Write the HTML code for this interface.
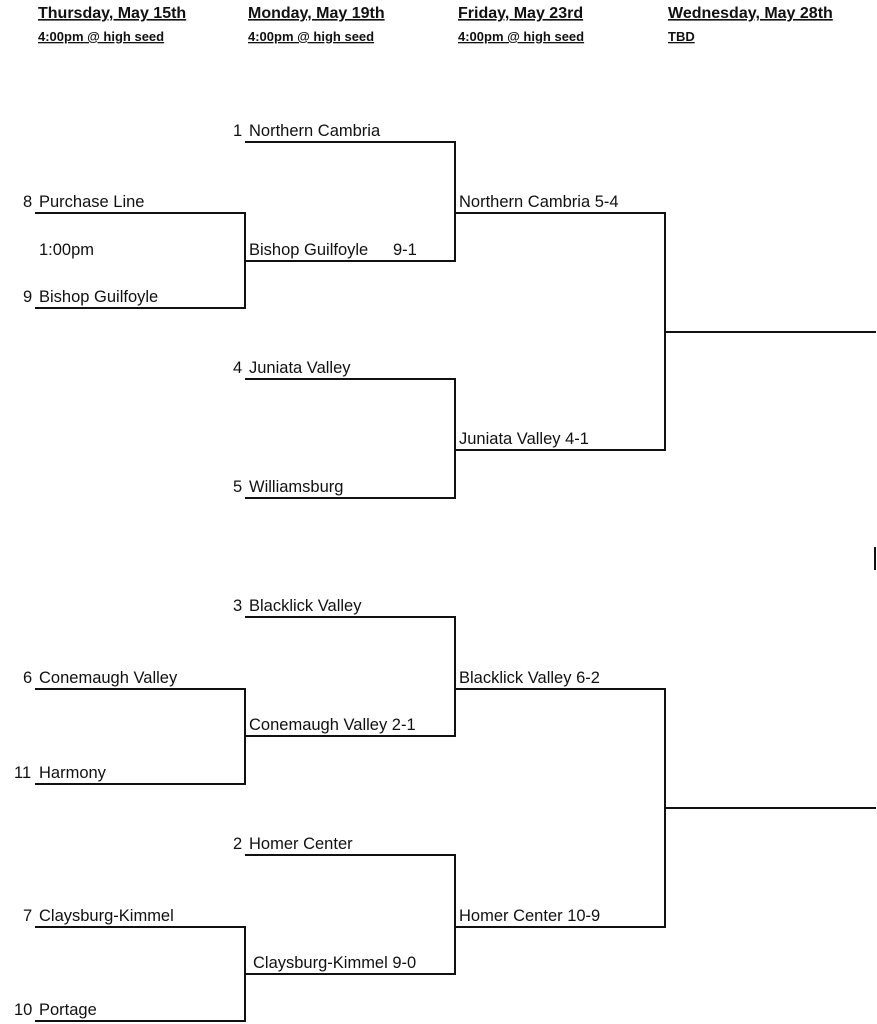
<!DOCTYPE html>
<html><head><meta charset="utf-8"><style>
html,body{margin:0;padding:0;background:#fff;}
svg{display:block;}
text{font-family:"Liberation Sans",Arial,sans-serif;font-size:16.5px;fill:#111;}
.h{font-weight:bold;font-size:16px;text-decoration:underline;}
.s{font-weight:bold;font-size:13px;text-decoration:underline;}
</style></head><body>
<svg width="877" height="1024" viewBox="0 0 877 1024">
<g>
<text class="h" x="38" y="18">Thursday, May 15th</text>
<text class="h" x="248" y="18">Monday, May 19th</text>
<text class="h" x="458" y="18">Friday, May 23rd</text>
<text class="h" x="668" y="18">Wednesday, May 28th</text>
<text class="s" x="38" y="41">4:00pm @ high seed</text>
<text class="s" x="248" y="41">4:00pm @ high seed</text>
<text class="s" x="458" y="41">4:00pm @ high seed</text>
<text class="s" x="668" y="41">TBD</text>
</g>
<g stroke="#111" stroke-width="2" fill="none">
<path d="M245 142H455V261H245"/>
<path d="M35 213H245V308H35"/>
<path d="M455 213H665V450H455"/>
<path d="M665 332H876"/>
<path d="M245 379H455V498H245"/>
<path d="M875 547V570"/>
<path d="M245 617H455V736H245"/>
<path d="M35 689H245V784H35"/>
<path d="M455 689H665V927H455"/>
<path d="M665 808H876"/>
<path d="M245 855H455V974H245"/>
<path d="M35 927H245V1021H35"/>
</g>
<g>
<text x="233" y="136">1</text><text x="249" y="136">Northern Cambria</text>
<text x="23" y="207">8</text><text x="39" y="207">Purchase Line</text>
<text x="39" y="255">1:00pm</text>
<text x="23" y="302">9</text><text x="39" y="302">Bishop Guilfoyle</text>
<text x="249" y="255">Bishop Guilfoyle</text><text x="393" y="255">9-1</text>
<text x="459" y="207">Northern Cambria 5-4</text>
<text x="233" y="373">4</text><text x="249" y="373">Juniata Valley</text>
<text x="459" y="444">Juniata Valley 4-1</text>
<text x="233" y="492">5</text><text x="249" y="492">Williamsburg</text>
<text x="233" y="611">3</text><text x="249" y="611">Blacklick Valley</text>
<text x="23" y="683">6</text><text x="39" y="683">Conemaugh Valley</text>
<text x="459" y="683">Blacklick Valley 6-2</text>
<text x="249" y="730">Conemaugh Valley 2-1</text>
<text x="14" y="778">11</text><text x="39" y="778">Harmony</text>
<text x="233" y="849">2</text><text x="249" y="849">Homer Center</text>
<text x="23" y="921">7</text><text x="39" y="921">Claysburg-Kimmel</text>
<text x="459" y="921">Homer Center 10-9</text>
<text x="253" y="968">Claysburg-Kimmel 9-0</text>
<text x="14" y="1015">10</text><text x="39" y="1015">Portage</text>
</g>
</svg>
</body></html>
